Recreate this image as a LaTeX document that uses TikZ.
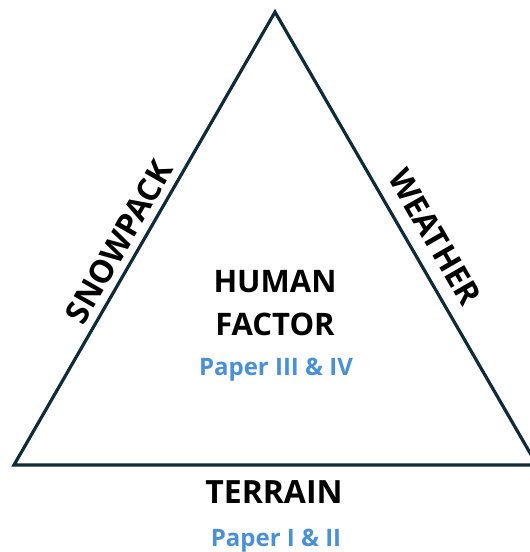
\documentclass[tikz,border=0pt]{standalone}
\usepackage{fontspec}
\setmainfont{Open Sans}
\usepackage{tikz}

\definecolor{edgeblue}{HTML}{0F2A3A}
\definecolor{paperblue}{HTML}{4A90D9}

\begin{document}
\begin{tikzpicture}[x=1pt, y=-1pt,
	side/.style={draw=none, font=\bfseries\fontsize{32}{36}\selectfont, text=black,
		inner sep=0pt},
	factor/.style={draw=none, font=\bfseries\fontsize{31}{43}\selectfont, text=black,
		align=center, inner sep=0pt, anchor=base},
	paper/.style={draw=none, font=\bfseries\fontsize{24}{28}\selectfont, text=paperblue,
		inner sep=0pt, anchor=base}
	]
	\useasboundingbox (0,0) rectangle (530,552);
	\clip (0,0) rectangle (530,552);
	% corners of the triangle
	\coordinate (top) at (275,12);
	\coordinate (left) at (14,465);
	\coordinate (right) at (537,465);
	\draw[edgeblue, line width=3.2pt, line join=miter] (top) -- (left) -- (right) -- cycle;
	% labels on the sides
	\node (snow) [side, rotate=60] at (119,242) {SNOWPACK};
	\node (weather) [side, rotate=-60] at (435,237) {WEATHER};
	% centre (base is the baseline of the second line)
	\node (human) [factor] at (275,335) {HUMAN\\FACTOR};
	\node (paper34) [paper] at (276,375) {Paper III \& IV};
	% base
	\node (terrain) [side, anchor=base] at (274,503) {TERRAIN};
	\node (paper12) [paper] at (276,546) {Paper I \& II};
\end{tikzpicture}
\end{document}
